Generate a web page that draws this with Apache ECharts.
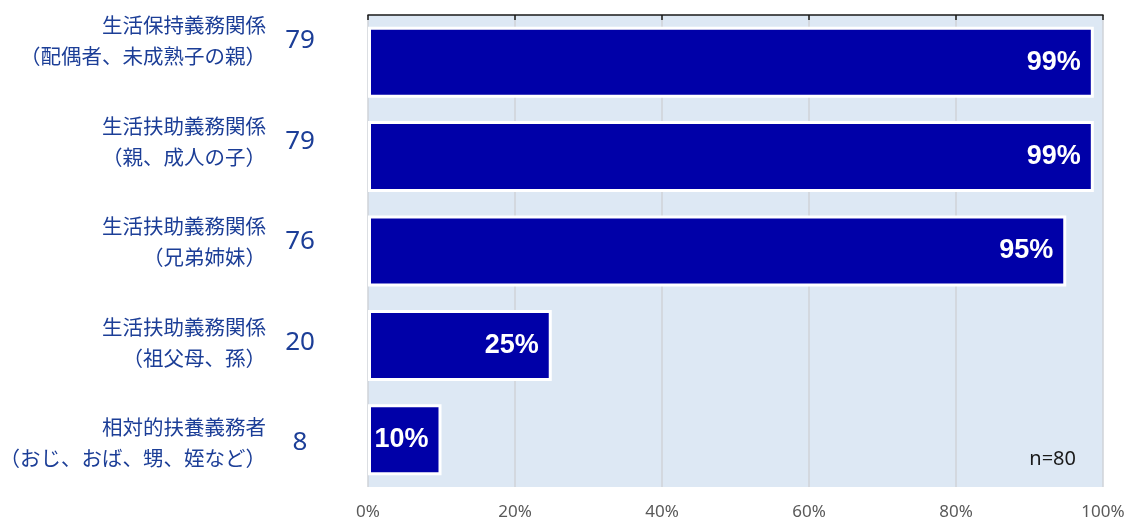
<!DOCTYPE html>
<html><head><meta charset="utf-8">
<script src="https://cdn.jsdelivr.net/npm/echarts@6/dist/echarts.min.js"></script>
<style>html,body{margin:0;padding:0;background:#fff}#c{width:1127px;height:520px}</style>
</head><body><div id="c"></div>
<script>
const categories = [
  '生活保持義務関係\n（配偶者、未成熟子の親）',
  '生活扶助義務関係\n（親、成人の子）',
  '生活扶助義務関係\n（兄弟姉妹）',
  '生活扶助義務関係\n（祖父母、孫）',
  '相対的扶養義務者\n（おじ、おば、甥、姪など）'
];
const counts = [79, 79, 76, 20, 8];
const percents = [98.75, 98.75, 95, 25, 10];
const sampleNote = 'n=80';
const xTicks = [0, 20, 40, 60, 80, 100];

const chart = echarts.init(document.getElementById('c'));
const textBlue = '#1c3e97';
chart.setOption({
  animation: false,
  grid: [
    {left: 368, right: 24, top: 15, bottom: 33, show: true, backgroundColor: '#dde8f4', borderWidth: 0,
     outerBoundsMode: 'none', containLabel: false},
    {left: 368, right: 24, top: 41, height: 402, show: false, outerBoundsMode: 'none', containLabel: false}
  ],
  xAxis: [
    {gridIndex: 0, type: 'value', min: xTicks[0], max: xTicks[xTicks.length-1], interval: 20, position: 'bottom',
     axisLine: {show: false}, axisTick: {show: false},
     splitLine: {show: true, lineStyle: {color: '#cfd3d8', width: 1.5}},
     axisLabel: {formatter: '{value}%', color: '#595959', fontSize: 17, margin: 17, fontFamily: 'Noto Sans'}},
    {gridIndex: 0, type: 'value', min: xTicks[0], max: xTicks[xTicks.length-1], interval: 20, position: 'top',
     axisLine: {show: true, lineStyle: {color: '#1a1a1a', width: 1.5}},
     axisTick: {show: true, inside: true, length: 5, lineStyle: {color: '#1a1a1a', width: 1.5}},
     axisLabel: {show: false}, splitLine: {show: false}},
    {gridIndex: 1, type: 'value', show: false, min: 0, max: 100}
  ],
  yAxis: [
    {gridIndex: 0, type: 'category', data: categories, inverse: true,
     axisLine: {show: false}, axisTick: {show: false}, axisLabel: {show: false}},
    {gridIndex: 1, type: 'category', data: categories, inverse: true, boundaryGap: false, position: 'left',
     axisLine: {show: false}, axisTick: {show: false}, splitLine: {show: false},
     axisLabel: {color: textBlue, fontSize: 20.5, lineHeight: 31, margin: 102, align: 'right',
       fontFamily: 'Noto Sans CJK JP'}},
    {gridIndex: 1, type: 'category', data: counts.map(String), inverse: true, boundaryGap: false, position: 'left',
     axisLine: {show: false}, axisTick: {show: false}, splitLine: {show: false},
     axisLabel: {color: textBlue, fontSize: 26, margin: 68, align: 'center', fontFamily: 'Noto Sans'}}
  ],
  series: [{
    type: 'bar', xAxisIndex: 0, yAxisIndex: 0,
    data: percents, barWidth: 71,
    itemStyle: {color: '#0000a8', borderColor: '#ffffff', borderWidth: 3},
    label: {show: true, position: 'insideRight', distance: 13, color: '#ffffff',
      fontSize: 27, fontWeight: 'bold', fontFamily: 'Liberation Sans',
      formatter: p => Math.round(p.value) + '%'}
  }],
  graphic: [{
    type: 'text', right: 1127 - 1076, top: 449,
    style: {text: sampleNote, fill: '#1a1a1a', fontSize: 20, fontFamily: 'Noto Sans'}
  }]
});
</script>
</body></html>
